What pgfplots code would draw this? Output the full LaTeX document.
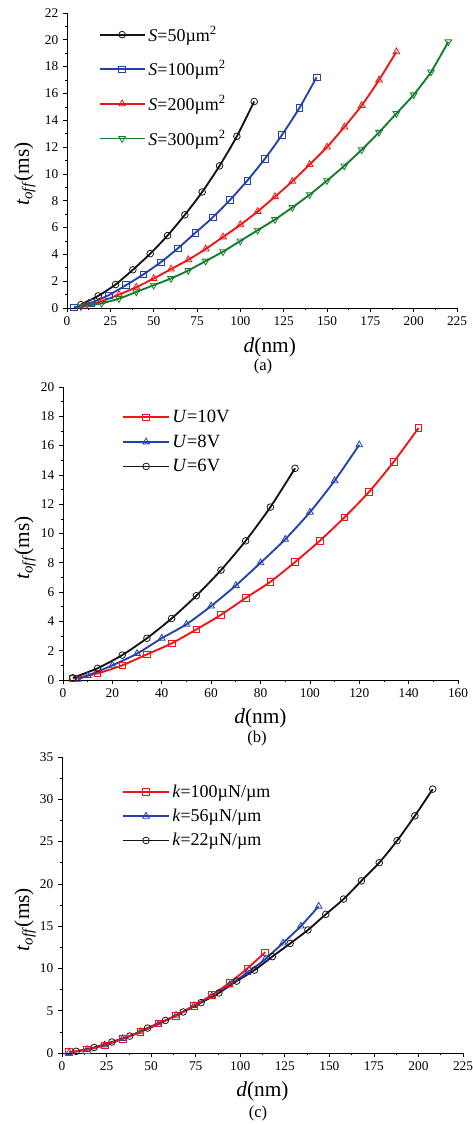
\documentclass[border=0pt]{standalone}
\usepackage{fontspec}
\setmainfont{Liberation Serif}
\usepackage{pgfplots}
\pgfplotsset{compat=1.18}
\definecolor{cblack}{RGB}{20,20,20}
\definecolor{cblue}{RGB}{35,65,170}
\definecolor{cred}{RGB}{240,20,20}
\definecolor{cgreen}{RGB}{20,125,45}

\pgfplotsset{
  panel/.style={
    scale only axis,
    axis lines*=left,
    ymin=0, xmin=0,
    minor x tick num=1, minor y tick num=1,
    tick align=outside,
    major tick length=3pt, minor tick length=1.8pt,
    tick style={black, line width=0.5pt},
    axis line style={black, line width=0.7pt},
    tick label style={font=\fontsize{10}{12}\selectfont},
    /pgf/number format/assume math mode=true,
    label style={font=\fontsize{16}{18}\selectfont},
    xlabel={\textit{d}(nm)},
    ylabel={\textit{t}\textsubscript{\textit{off}}(ms)},
    legend cell align=left,
    clip=false,
  },
  ser/.style={line width=1.4pt, mark size=2.5pt, smooth, tension=0.4,
              mark options={solid, fill=white, line width=0.6pt},
              legend image code/.code={
                \draw[mark repeat=2,mark phase=2] plot coordinates {(0pt,0pt) (17pt,0pt) (34pt,0pt)};}},
  tri/.style={mark=triangle, mark size=2.9pt},
}

\begin{document}
\begin{tikzpicture}
\path[use as bounding box] (0pt,0pt) rectangle (354pt,843.75pt);

% ---------------- (a)
\begin{axis}[panel,
  at={(50.25pt,612.75pt)}, anchor=south west,
  width=292.5pt, height=221.25pt,
  xmax=225, ymax=22,
  xtick={0,25,...,225}, ytick={0,2,...,22},
  xlabel style={at={(axis description cs:0.52,-0.132)}, anchor=center},
  ylabel style={at={(axis description cs:-0.108,0.454)}, anchor=center},
  legend style={at={(0.07,0.975)}, anchor=north west, draw=none, fill=none,
                font=\fontsize{13.5}{15}\selectfont, row sep=9pt},
]
\addplot[ser, cblack, mark=o] coordinates {
 (8,0.25)(18,0.9)(28,1.75)(38,2.85)(48,4.05)(58,5.4)(68,6.95)(78,8.65)(88,10.6)(98,12.8)(108,15.4)};
\addlegendentry{\textit{S}=50µm\textsuperscript{2}}
\addplot[ser, cblue, mark=square] coordinates {
 (4,0.05)(14,0.4)(24,0.95)(34,1.7)(44,2.5)(54,3.4)(64,4.45)(74,5.6)(84,6.75)(94,8.05)(104,9.5)(114,11.1)(124,12.9)(134,14.9)(144,17.2)};
\addlegendentry{\textit{S}=100µm\textsuperscript{2}}
\addplot[ser, cred, tri] coordinates {
 (10,0.15)(20,0.5)(30,1.0)(40,1.55)(50,2.2)(60,2.9)(70,3.6)(80,4.4)(90,5.3)(100,6.2)(110,7.2)(120,8.3)(130,9.45)(140,10.7)(150,12.0)(160,13.5)(170,15.1)(180,17.0)(190,19.1)};
\addlegendentry{\textit{S}=200µm\textsuperscript{2}}
\addplot[ser, cgreen, tri, mark options={solid, fill=white, line width=0.6pt, rotate=180}] coordinates {
 (8,0.1)(20,0.35)(30,0.7)(40,1.2)(50,1.7)(60,2.2)(70,2.8)(80,3.5)(90,4.2)(100,5.0)(110,5.8)(120,6.6)(130,7.5)(140,8.45)(150,9.5)(160,10.6)(170,11.8)(180,13.1)(190,14.5)(200,15.9)(210,17.6)(220,19.85)};
\addlegendentry{\textit{S}=300µm\textsuperscript{2}}
\end{axis}
\node[font=\fontsize{12.5}{14}\selectfont] at (197.25pt,568.5pt) {(a)};

% ---------------- (b)
\begin{axis}[panel,
  at={(47.25pt,333.75pt)}, anchor=south west,
  width=296.25pt, height=219.75pt,
  xmax=160, ymax=20,
  xtick={0,20,...,160}, ytick={0,2,...,20},
  xlabel style={at={(axis description cs:0.50,-0.13)}, anchor=center},
  ylabel style={at={(axis description cs:-0.096,0.45)}, anchor=center},
  legend style={at={(0.14,0.94)}, anchor=north west, draw=none, fill=none,
                font=\fontsize{14}{15}\selectfont, row sep=3.6pt},
]
\addplot[ser, cred, mark=square] coordinates {
 (4,0.1)(14,0.45)(24,1.0)(34,1.75)(44,2.5)(54,3.45)(64,4.45)(74,5.6)(84,6.7)(94,8.05)(104,9.5)(114,11.1)(124,12.85)(134,14.9)(144,17.2)};
\addlegendentry{\textit{U}=10V}
\addplot[ser, cblue, tri] coordinates {
 (6,0.05)(10,0.3)(20,1.0)(30,1.8)(40,2.85)(50,3.8)(60,5.05)(70,6.45)(80,8.0)(90,9.6)(100,11.45)(110,13.6)(120,16.05)};
\addlegendentry{\textit{U}=8V}
\addplot[ser, cblack, mark=o] coordinates {
 (4,0.15)(14,0.8)(24,1.7)(34,2.85)(44,4.2)(54,5.75)(64,7.5)(74,9.5)(84,11.8)(94,14.45)};
\addlegendentry{\textit{U}=6V}
\end{axis}
\node[font=\fontsize{12.5}{14}\selectfont] at (192.75pt,290.25pt) {(b)};

% ---------------- (c)
\begin{axis}[panel,
  at={(46.5pt,54pt)}, anchor=south west,
  width=300.75pt, height=222pt,
  xmax=225, ymax=35,
  xtick={0,25,...,225}, ytick={0,5,...,35},
  xlabel style={at={(axis description cs:0.50,-0.13)}, anchor=center},
  ylabel style={at={(axis description cs:-0.092,0.45)}, anchor=center},
  legend style={at={(0.14,0.925)}, anchor=north west, draw=none, fill=none,
                font=\fontsize{13.5}{15}\selectfont, row sep=3.3pt},
]
\addlegendimage{ser, cred, mark=square}
\addlegendentry{\textit{k}=100µN/µm}
\addlegendimage{ser, cblue, tri}
\addlegendentry{\textit{k}=56µN/µm}
\addlegendimage{ser, cblack, mark=o}
\addlegendentry{\textit{k}=22µN/µm}
\addplot[ser, cblack, mark=o, forget plot] coordinates {
 (8,0.2)(18,0.65)(28,1.3)(38,2.0)(48,2.95)(58,3.85)(68,4.85)(78,5.95)(88,7.1)(98,8.5)(108,9.8)(118,11.4)(128,12.95)(138,14.55)(148,16.4)(158,18.2)(168,20.35)(178,22.5)(188,25.1)(198,28.05)(208,31.2)};
\addplot[ser, cblue, tri, forget plot] coordinates {
 (4,0.05)(14,0.4)(24,0.95)(34,1.7)(44,2.5)(54,3.4)(64,4.45)(74,5.6)(84,6.75)(94,8.05)(104,9.5)(114,11.1)(124,13.0)(134,15.0)(144,17.35)};
\addplot[ser, cred, mark=square, forget plot] coordinates {
 (4,0.1)(14,0.4)(24,0.9)(34,1.7)(44,2.5)(54,3.5)(64,4.4)(74,5.6)(84,6.85)(94,8.3)(104,10.0)(114,11.9)};
\end{axis}
\node[font=\fontsize{12.5}{14}\selectfont] at (193.5pt,9pt) {(c)};
\end{tikzpicture}
\end{document}
